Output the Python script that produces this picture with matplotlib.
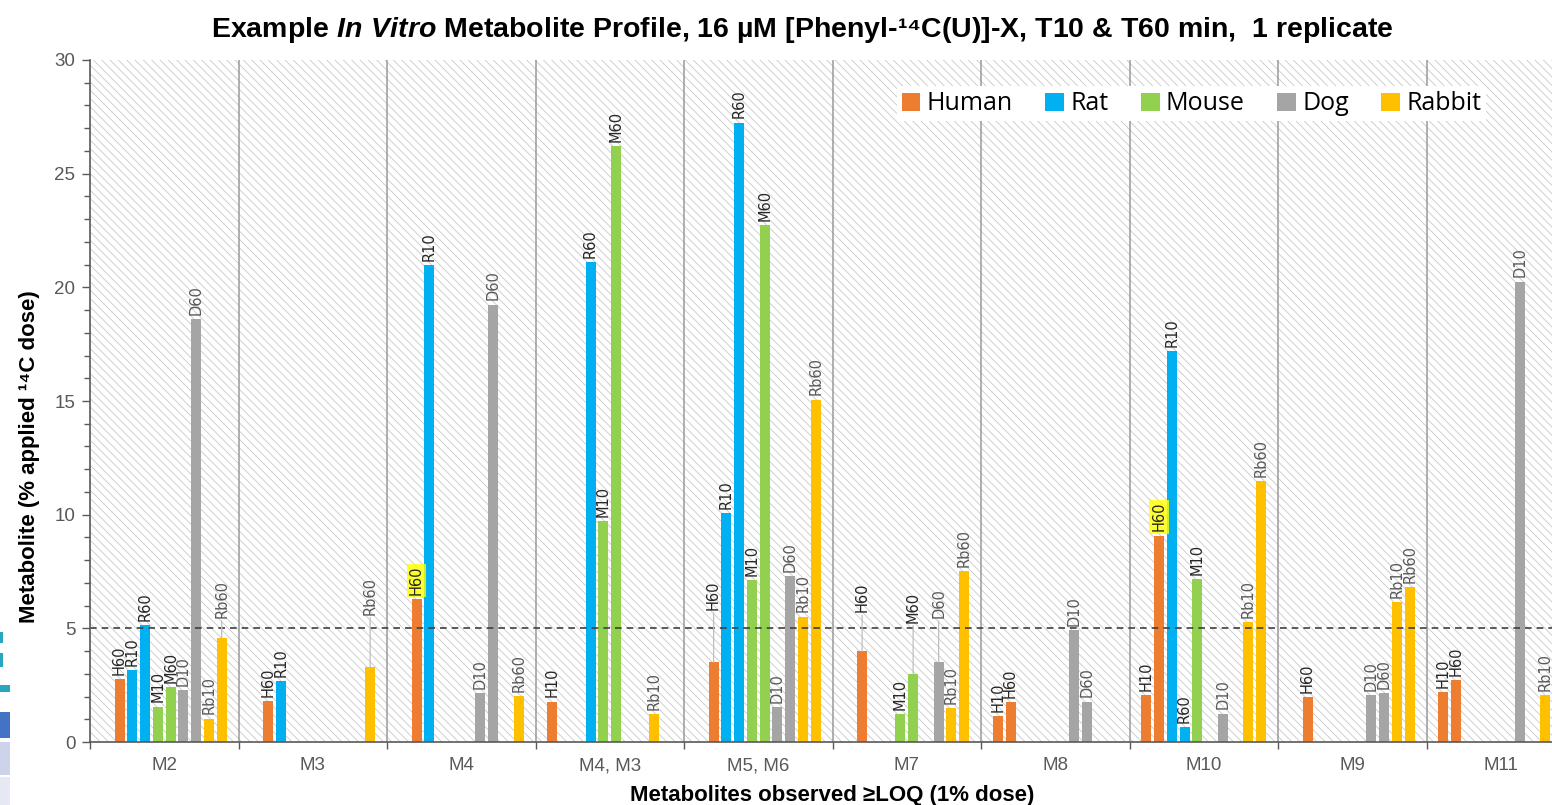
"""
Perfil de metabolitos in vitro (exemplo) - barras por especie e tempo.
"""

import numpy as np
import matplotlib.pyplot as plt
from matplotlib.patches import Rectangle, Patch

nan = np.nan

# Categorias (metabolitos) e series (especie + tempo)
categorias = ['M2', 'M3', 'M4', 'M4, M3', 'M5, M6', 'M7', 'M8', 'M10', 'M9', 'M11']
series = ['H10', 'H60', 'R10', 'R60', 'M10', 'M60', 'D10', 'D60', 'Rb10', 'Rb60']
especies = ['Human', 'Rat', 'Mouse', 'Dog', 'Rabbit']
cores = ['#ED7D31', '#00B0F0', '#92D050', '#A5A5A5', '#FFC000']

# Valores (% da dose aplicada de 14C)
h10 = [nan, nan, nan, 1.78, nan, nan, 1.13, 2.08, nan, 2.19]
h60 = [2.76, 1.81, 6.27, nan, 3.52, 3.99, 1.74, 9.08, 1.96, 2.73]
r10 = [3.18, 2.69, 20.98, nan, 10.07, nan, nan, 17.2, nan, nan]
r60 = [5.15, nan, nan, 21.1, 27.25, nan, nan, 0.67, nan, nan]
m10 = [1.56, nan, nan, 9.7, 7.12, 1.22, nan, 7.16, nan, nan]
m60 = [2.40, nan, nan, 26.2, 22.75, 3.0, nan, nan, nan, nan]
d10 = [2.28, nan, 2.17, nan, 1.55, nan, 4.93, 1.25, 2.08, 20.25]
d60 = [18.6, nan, 19.24, nan, 7.30, 3.52, 1.78, nan, 2.15, nan]
rb10 = [1.03, nan, nan, 1.24, 5.52, 1.50, nan, 5.29, 6.17, 2.08]
rb60 = [4.56, 3.31, 2.01, nan, 15.06, 7.53, nan, 11.49, 6.80, nan]
valores = [h10, h60, r10, r60, m10, m60, d10, d60, rb10, rb60]

LOQ = 5

# Rotulos deslocados para cima (com linha guia) e rotulos destacados
rotulos_elevados = {('M2', 'Rb60'): 5.45, ('M3', 'Rb60'): 5.6, ('M5, M6', 'H60'): 5.8,
                    ('M7', 'H60'): 5.7, ('M7', 'M60'): 5.25, ('M7', 'D60'): 5.45}
rotulos_destacados = [('M4', 'H60'), ('M10', 'H60')]

plt.rcParams['font.family'] = ['Liberation Sans', 'DejaVu Sans']
plt.rcParams['mathtext.fontset'] = 'custom'
plt.rcParams['mathtext.rm'] = 'Liberation Sans'
plt.rcParams['mathtext.bf'] = 'Liberation Sans:bold'
plt.rcParams['mathtext.bfit'] = 'Liberation Sans:italic:bold'
plt.rcParams['hatch.linewidth'] = 0.6

fig = plt.figure(figsize=(15.52, 8.05), dpi=100)
ax = fig.add_axes([90 / 1552, 1 - 742 / 805, 1485 / 1552, 682 / 805])
ax.patch.set_visible(False)

# Fundo hachurado
ax.add_patch(Rectangle((0, 0), 1, 1, transform=ax.transAxes, facecolor='white',
                       edgecolor='#C8C8C8', hatch='\\\\\\\\', lw=0, zorder=0))

passo = 0.0859
largura = 0.067
centros = np.arange(len(categorias)) + 0.5

for j, serie in enumerate(series):
    cor = cores[j // 2]
    x = centros + (j - 4.5) * passo
    ax.bar(x, valores[j], width=largura, color=cor, zorder=3)
    cor_rotulo = '#262626' if j < 6 else '#595959'
    for i, v in enumerate(valores[j]):
        if np.isnan(v):
            continue
        chave = (categorias[i], serie)
        bbox = None
        if chave in rotulos_destacados:
            bbox = dict(boxstyle='square,pad=0.15', fc='#FFFF00', ec='none', alpha=0.8)
        if chave in rotulos_elevados:
            ax.annotate(serie, xy=(x[i], v), xytext=(x[i], rotulos_elevados[chave]),
                        textcoords='data', rotation=90, ha='center', va='bottom',
                        fontsize=10.5, family='DejaVu Sans', color=cor_rotulo, zorder=6,
                        arrowprops=dict(arrowstyle='-', color='#BFBFBF', lw=0.9,
                                        shrinkA=0, shrinkB=0, relpos=(0.5, 0)))
        else:
            ax.annotate(serie, xy=(x[i], v), xytext=(0, 3), textcoords='offset points',
                        rotation=90, ha='center', va='bottom', fontsize=10.5,
                        family='DejaVu Sans', color=cor_rotulo, zorder=6, bbox=bbox)

# Separadores entre categorias e linha do LOQ
for b in range(1, len(categorias)):
    ax.axvline(b, color='#9A9A9A', lw=1.1, zorder=1)
ax.axhline(LOQ, color='#404040', ls=(0, (4, 3)), lw=1.2, zorder=4)

ax.set_xlim(0, len(categorias))
ax.set_ylim(0, 30)
ax.set_xticks(range(len(categorias) + 1))
ax.set_xticklabels([])
ax.set_xticks(centros, minor=True)
ax.set_xticklabels(categorias, minor=True)
ax.set_yticks(range(0, 31, 5))
ax.set_yticks(range(0, 31), minor=True)
ax.tick_params(axis='x', which='major', length=5, width=1, color='#595959', direction='out')
ax.tick_params(axis='x', which='minor', length=0, pad=11, labelsize=13.5, labelcolor='#595959')
ax.tick_params(axis='y', which='major', length=5.5, width=1, color='#595959', labelsize=13.5,
               labelcolor='#595959', pad=5)
ax.tick_params(axis='y', which='minor', length=4.3, width=1, color='#595959')
for lado in ['top', 'right']:
    ax.spines[lado].set_visible(False)
for lado in ['left', 'bottom']:
    ax.spines[lado].set_color('#595959')
    ax.spines[lado].set_linewidth(1.2)
    ax.spines[lado].set_zorder(5)

fig.text(30 / 1552, 1 - 457 / 805, 'Metabolite (% applied \u00b9\u2074C dose)', fontsize=16,
         fontweight='bold', rotation=90, ha='center', va='center')
fig.text(832 / 1552, 1 - 795 / 805, 'Metabolites observed \u2265LOQ (1% dose)', fontsize=16,
         fontweight='bold', ha='center', va='center')

fig.text(802 / 1552, 1 - 30 / 805,
         'Example $\\mathbfit{In\\ Vitro}$ Metabolite Profile, 16 \u00b5M [Phenyl-\u00b9\u2074C(U)]-X, '
         'T10 & T60 min,  1 replicate', fontsize=20.5, fontweight='bold', ha='center', va='center')

# Legenda
handles = [Patch(facecolor=c, edgecolor='none') for c in cores]
fig.legend(handles, especies, loc='upper left', bbox_to_anchor=(884 / 1552, 1 - 74 / 805),
           ncol=5, prop={'family': 'Open Sans', 'size': 18}, handlelength=0.75,
           handleheight=0.75, handletextpad=0.25, columnspacing=1.3, borderpad=0.2,
           fancybox=False, edgecolor='none', framealpha=1)

# Restos de captura de tela na margem esquerda
for (y0, y1, w, cor) in [(632, 643, 3, '#27A6C0'), (653, 667, 3, '#27A6C0'),
                         (685, 692, 10, '#27A6C0'), (712, 738, 10, '#4472C4'),
                         (742, 775, 10, '#CDD3EA'), (777, 805, 10, '#E6E9F4')]:
    fig.add_artist(Rectangle((0, 1 - y1 / 805), w / 1552, (y1 - y0) / 805,
                             transform=fig.transFigure, facecolor=cor, edgecolor='none'))

fig.savefig('out.png', dpi=100)
